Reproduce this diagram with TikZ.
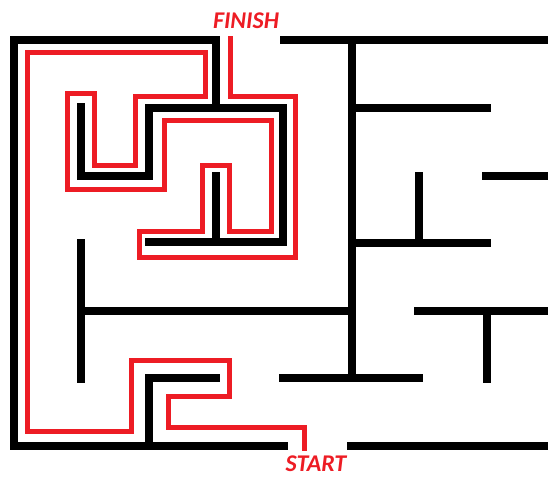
\documentclass[tikz,border=0pt]{standalone}
\usepackage{fontspec}
\setmainfont{Carlito}
\definecolor{mazered}{RGB}{237,28,36}
\tikzset{
  wall/.style={line width=8pt, black, line cap=rect, line join=miter},
  route/.style={line width=5pt, mazered, line cap=rect, line join=miter},
  lbl/.style={text=mazered, font=\fontsize{24}{24}\selectfont\bfseries\itshape, inner sep=0pt}
}
\begin{document}
\begin{tikzpicture}[x=1pt,y=-1pt]
\useasboundingbox (0,0) rectangle (548,477);
\clip (0,0) rectangle (548,477);
% outer walls
\draw[wall] (216,108) -- (216,40) -- (14,40) -- (14,446) -- (284,446);
\draw[wall] (284,40) -- (556,40);
\draw[wall] (351,446) -- (556,446);
% right part
\draw[wall] (352,40) -- (352,378);
\draw[wall] (283,378) -- (419,378);
\draw[wall] (352,108) -- (487,108);
\draw[wall] (352,243) -- (487,243);
\draw[wall] (419,243) -- (419,176);
\draw[wall] (486,176) -- (556,176);
\draw[wall] (418,311) -- (556,311);
\draw[wall] (487,311) -- (487,379);
% left part
\draw[wall] (81,243) -- (81,379);
\draw[wall] (81,311) -- (352,311);
\draw[wall] (81,107) -- (81,176) -- (149,176) -- (149,108) -- (283,108) -- (283,242) -- (149,242);
\draw[wall] (216,176) -- (216,242);
\draw[wall] (149,446) -- (149,378) -- (216,378);
% solution route
\draw[route] (304,448) -- (304,427) -- (168,427) -- (168,396) -- (229,396) -- (229,360)
  -- (131,360) -- (131,431) -- (27,431) -- (27,52) -- (205,52) -- (205,96)
  -- (135,96) -- (135,165) -- (94,165) -- (94,93) -- (67,93) -- (67,189)
  -- (164,189) -- (164,120) -- (271,120) -- (271,231) -- (229,231) -- (229,165)
  -- (202,165) -- (202,231) -- (139,231) -- (139,257) -- (295,257) -- (295,96)
  -- (230,96) -- (230,38);
\node[lbl] (finish) at (246,21) {FINISH};
\node[lbl] (start) at (316,464) {START};
\end{tikzpicture}
\end{document}
